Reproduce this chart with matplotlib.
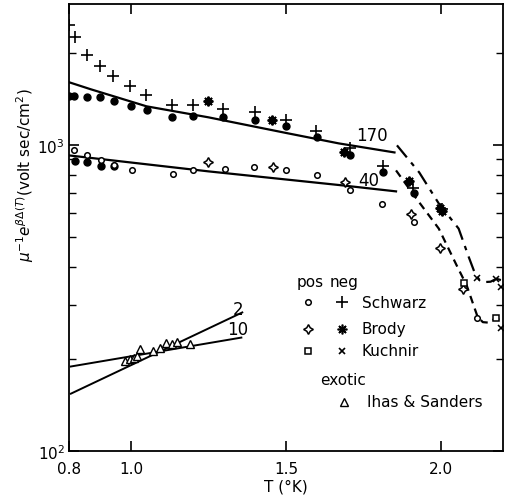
import numpy as np
import matplotlib.pyplot as plt
from matplotlib.ticker import FixedLocator, LogLocator, NullFormatter

# Schwarz, negative ions (+)
schwarz_neg_T = [0.800, 0.819, 0.858, 0.900, 0.941, 0.996, 1.048, 1.131, 1.199,
                 1.298, 1.401, 1.501, 1.597, 1.707, 1.813, 1.909, 2.003]
schwarz_neg_y = [2474, 2260, 1973, 1816, 1684, 1561, 1458, 1353, 1353,
                 1312, 1283, 1208, 1111, 978, 853, 723, 617]
# filled dots (no legend entry)
dots_hi_T = [0.800, 0.816, 0.858, 0.900, 0.945, 0.999, 1.051, 1.131, 1.199,
             1.298, 1.401, 1.501, 1.601, 1.707, 1.813, 1.913]
dots_hi_y = [1447, 1447, 1437, 1437, 1394, 1342, 1302, 1235, 1250,
             1235, 1208, 1154, 1062, 927, 816, 701]
dots_lo_T = [0.819, 0.858, 0.903, 0.945]
dots_lo_y = [886, 880, 853, 853]
# Schwarz, positive ions (o)
schwarz_pos_T = [0.816, 0.858, 0.903, 0.945, 1.003, 1.134, 1.199, 1.302, 1.398,
                 1.501, 1.601, 1.707, 1.810, 1.913, 2.115]
schwarz_pos_y = [963, 927, 893, 860, 828, 803, 828, 834, 847,
                 828, 797, 717, 641, 563, 273]
# Brody
brody_pos_T = [1.250, 1.459, 1.691, 1.903, 1.996, 2.070]
brody_pos_y = [880, 847, 756, 598, 463, 340]
brody_neg_T = [1.247, 1.456, 1.687, 1.896, 1.996, 2.003]
brody_neg_y = [1394, 1208, 948, 762, 622, 608]
# Kuchnir
kuchnir_pos_T = [2.073, 2.176]
kuchnir_pos_y = [355, 273]
kuchnir_neg_T = [2.115, 2.179, 2.192, 2.192]
kuchnir_neg_y = [369, 366, 345, 253]
# Ihas & Sanders, exotic ions
ihas_T = [0.980, 0.996, 1.009, 1.019, 1.028, 1.070, 1.093, 1.112, 1.131, 1.150, 1.189]
ihas_y = [197, 200, 202, 205, 216, 213, 218, 226, 224, 228, 224]

# fitted curves
fit170_T = [0.80, 0.87, 1.05, 1.25, 1.50, 1.67, 1.85]
fit170_y = [1609, 1526, 1342, 1235, 1098, 1015, 948]
fit40_T = [0.80, 1.25, 1.68, 1.855]
fit40_y = [927, 822, 740, 707]
fit2_T = [0.806, 1.359]
fit2_y = [154, 284]
fit10_T = [0.806, 1.356]
fit10_y = [189, 235]
dashdot_T = [1.858, 1.93, 1.993, 2.057, 2.090, 2.110, 2.125, 2.140, 2.160, 2.179, 2.195]
dashdot_y = [1000, 815, 645, 534, 430, 380, 362, 357, 358, 366, 362]
dashed_T = [1.855, 1.913, 1.993, 2.051, 2.083, 2.105, 2.118, 2.135, 2.154, 2.176, 2.195]
dashed_y = [828, 686, 534, 404, 348, 300, 275, 264, 263, 272, 267]

plt.rcParams['font.family'] = 'DejaVu Sans'
fig = plt.figure(figsize=(5.05, 5.02), dpi=100)
ax = fig.add_axes([0.1366, 0.0996, 0.8594, 0.8904])

k = 'black'
ax.plot(fit170_T, fit170_y, color=k, lw=1.6)
ax.plot(fit40_T, fit40_y, color=k, lw=1.6)
ax.plot(fit2_T, fit2_y, color=k, lw=1.4)
ax.plot(fit10_T, fit10_y, color=k, lw=1.4)
ax.plot(dashdot_T, dashdot_y, color=k, lw=1.6, ls=(0, (7, 3, 2, 3)))
ax.plot(dashed_T, dashed_y, color=k, lw=1.6, ls=(0, (3.5, 2.5)))

ax.plot(schwarz_neg_T, schwarz_neg_y, '+', color=k, ms=8, mew=1.2)
ax.plot(dots_hi_T, dots_hi_y, 'o', color=k, ms=5)
ax.plot(dots_lo_T, dots_lo_y, 'o', color=k, ms=5)
ax.plot(schwarz_pos_T, schwarz_pos_y, 'o', mfc='white', mec=k, ms=4, mew=1.1)
ax.plot(brody_pos_T, brody_pos_y, marker=(4, 1, 0), ls='none', mfc='white', mec=k, ms=7, mew=1.1)
ax.plot(brody_neg_T, brody_neg_y, marker=(8, 2, 0), ls='none', color=k, ms=7, mew=1.4)
ax.plot(kuchnir_pos_T, kuchnir_pos_y, 's', mfc='white', mec=k, ms=4, mew=1.1)
ax.plot(kuchnir_neg_T, kuchnir_neg_y, 'x', color=k, ms=5, mew=1.1)
ax.plot(ihas_T, ihas_y, '^', mfc='white', mec=k, ms=6, mew=1.0)

ax.text(1.777, 1078, '170', ha='center', va='center', fontsize=12)
ax.text(1.768, 768, '40', ha='center', va='center', fontsize=12)
ax.text(1.347, 292, '2', ha='center', va='center', fontsize=12)
ax.text(1.343, 251, '10', ha='center', va='center', fontsize=12)

# legend drawn by hand
tr = ax.transAxes
fs = 11
ax.text(0.525, 0.380, 'pos', transform=tr, fontsize=fs, va='center')
ax.text(0.601, 0.380, 'neg', transform=tr, fontsize=fs, va='center')
rows = [('Schwarz', 0.333, dict(marker='o', mfc='white', ms=4), dict(marker='+', ms=8)),
        ('Brody', 0.273, dict(marker=(4, 1, 0), mfc='white', ms=7), dict(marker=(8, 2, 0), ms=7)),
        ('Kuchnir', 0.224, dict(marker='s', mfc='white', ms=4), dict(marker='x', ms=5))]
for name, yy, mp, mn in rows:
    ax.plot([0.551], [yy], transform=tr, ls='none', color=k, mec=k, mew=1.1, **mp)
    ax.plot([0.629], [yy], transform=tr, ls='none', color=k, mec=k, mew=1.2, **mn)
    ax.text(0.675, yy, name, transform=tr, fontsize=fs, va='center')
ax.text(0.578, 0.161, 'exotic', transform=tr, fontsize=fs, va='center')
ax.plot([0.634], [0.110], transform=tr, marker='^', ls='none', mfc='white', mec=k, ms=6)
ax.text(0.687, 0.110, 'Ihas & Sanders', transform=tr, fontsize=fs, va='center')

ax.set_yscale('log')
ax.set_xlim(0.8, 2.2)
ax.set_ylim(100, 2900)
ax.xaxis.set_major_locator(FixedLocator([0.8, 1.0, 1.5, 2.0]))
ax.set_xticklabels(['0.8', '1.0', '1.5', '2.0'])
ax.yaxis.set_minor_locator(LogLocator(base=10, subs=np.arange(2, 10)))
ax.yaxis.set_minor_formatter(NullFormatter())
ax.tick_params(which='both', direction='in', top=True, right=True, labelsize=11)
ax.tick_params(axis='x', pad=7)
ax.tick_params(axis='y', pad=3)
ax.tick_params(which='major', length=7, width=1.2)
ax.tick_params(which='minor', length=5, width=1.0)
for s in ax.spines.values():
    s.set_linewidth(1.3)

ax.set_xlabel('T (°K)', fontsize=11, labelpad=2)
ax.set_ylabel(r'$\mu^{-1}e^{\beta\Delta(T)}$(volt sec/cm$^2$)', fontsize=11)
ax.yaxis.set_label_coords(-0.075, 0.62)

fig.savefig('out.png', dpi=100)
